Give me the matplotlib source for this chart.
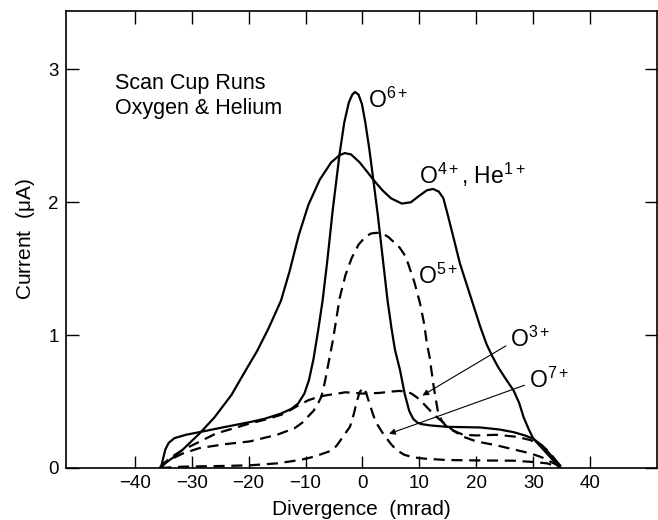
import matplotlib
matplotlib.use("Agg")
from matplotlib import pyplot as plt

plt.rcParams["font.family"] = ["Liberation Sans", "DejaVu Sans"]
plt.rcParams["mathtext.fontset"] = "custom"
plt.rcParams["mathtext.rm"] = "Liberation Sans"
plt.rcParams["mathtext.it"] = "Liberation Sans:italic"
plt.rcParams["mathtext.default"] = "rm"

# values (divergence mrad, current uA)
o4_x = [-35.6, -34.5, -33.2, -31.5, -28.6, -26.0, -23.0, -20.5, -18.5, -16.5, -14.3, -12.8,
        -11.2, -9.5, -7.5, -5.5, -4.0, -3.1, -2.0, -0.5, 1.0, 1.9, 3.5, 5.0, 6.9, 8.5,
        10.0, 11.3, 12.4, 13.4, 14.2, 15.0, 16.0, 17.1, 18.3, 19.5, 20.7, 21.8, 22.8,
        23.8, 25.0, 26.5, 27.5, 28.3, 29.2, 30.0, 31.5, 33.0, 34.7]
o4_y = [0.0, 0.04, 0.08, 0.14, 0.26, 0.38, 0.55, 0.735, 0.88, 1.05, 1.26, 1.48,
        1.75, 1.98, 2.17, 2.3, 2.355, 2.37, 2.36, 2.3, 2.22, 2.17, 2.09, 2.03, 1.99, 2.0,
        2.05, 2.09, 2.10, 2.08, 2.03, 1.9, 1.73, 1.54, 1.38, 1.22, 1.06, 0.93, 0.84,
        0.76, 0.68, 0.585, 0.49, 0.38, 0.29, 0.22, 0.15, 0.08, 0.0]

o6_x = [-35.4, -35.0, -34.6, -34.0, -33.0, -31.0, -28.6, -24.0, -19.8, -17.2, -14.3,
        -12.5, -11.3, -10.2, -9.4, -8.6, -7.8, -7.0, -6.2, -5.2, -4.0, -3.2, -2.4, -1.8,
        -1.3, -0.7, -0.1, 0.5, 1.2, 1.9, 2.7, 3.5, 4.4, 5.1, 5.7, 6.6, 7.4, 8.2, 8.9, 9.7,
        10.4, 12.0, 14.8, 20.7, 24.0, 26.5, 28.5, 30.0, 31.5, 33.0, 34.7]
o6_y = [0.0, 0.07, 0.14, 0.19, 0.225, 0.25, 0.27, 0.31, 0.345, 0.37, 0.41,
        0.445, 0.485, 0.56, 0.66, 0.82, 1.03, 1.26, 1.55, 1.95, 2.37, 2.6, 2.75, 2.81,
        2.83, 2.81, 2.74, 2.6, 2.4, 2.17, 1.9, 1.6, 1.26, 1.05, 0.89, 0.735, 0.56, 0.43,
        0.37, 0.34, 0.33, 0.32, 0.31, 0.305, 0.29, 0.27, 0.245, 0.22, 0.17, 0.1, 0.02]

o5_x = [-35.6, -34.8, -33.9, -31.5, -28.6, -24.0, -19.8, -15.0, -11.9, -10.6, -9.6,
        -8.6, -7.8, -7.3, -6.9, -6.5, -6.1, -5.2, -4.0, -3.0, -1.9, -0.7, 0.5, 1.5, 2.5,
        3.5, 4.5, 5.5, 6.5, 7.3, 8.0, 9.1, 10.1, 10.8, 11.3, 11.8, 12.1, 12.4, 12.8, 13.3,
        14.0, 14.8, 16.0, 17.7, 20.0, 23.6, 27.0, 29.5, 31.5, 33.0, 34.2]
o5_y = [0.0, 0.04, 0.06, 0.11, 0.15, 0.18, 0.20, 0.25, 0.30, 0.34, 0.385,
        0.43, 0.485, 0.53, 0.585, 0.67, 0.76, 0.96, 1.28, 1.45, 1.58, 1.68, 1.74, 1.765,
        1.77, 1.765, 1.74, 1.7, 1.66, 1.61, 1.54, 1.4, 1.24, 1.09, 0.94, 0.83, 0.735, 0.64,
        0.535, 0.41, 0.35, 0.31, 0.28, 0.25, 0.245, 0.25, 0.235, 0.21, 0.17, 0.11, 0.04]

o3_x = [-35.4, -34.0, -31.6, -28.5, -25.7, -22.5, -19.8, -17.0, -14.3, -12.5, -11.3,
        -9.5, -7.8, -6.0, -5.0, -3.0, 0.0, 3.0, 5.0, 6.5, 7.7, 8.6, 9.6, 10.7, 11.8,
        13.0, 14.8, 16.0, 17.7, 20.0, 23.6, 26.5, 29.5, 31.5, 33.6, 35.0]
o3_y = [0.0, 0.07, 0.135, 0.2, 0.26, 0.3, 0.335, 0.365, 0.40, 0.44, 0.47,
        0.51, 0.535, 0.55, 0.555, 0.57, 0.56, 0.565, 0.575, 0.58, 0.575, 0.56, 0.53, 0.485,
        0.435, 0.385, 0.32, 0.28, 0.235, 0.2, 0.17, 0.14, 0.11, 0.08, 0.035, 0.0]

o7_x = [-35.5, -31.6, -25.0, -19.8, -15.0, -11.0, -9.0, -7.5, -6.5, -5.5, -4.6, -4.0,
        -3.2, -2.2, -1.5, -1.0, -0.5, 0.1, 0.6, 1.2, 1.8, 2.3, 3.0, 3.6, 4.3, 5.0, 6.0,
        7.3, 8.9, 11.0, 14.8, 20.0, 26.5, 30.0, 32.4, 35.0]
o7_y = [0.0, 0.01, 0.015, 0.02, 0.035, 0.06, 0.08, 0.10, 0.115, 0.13, 0.165, 0.20,
        0.25, 0.31, 0.41, 0.5, 0.57, 0.605, 0.57, 0.49, 0.41, 0.35, 0.3, 0.26, 0.22, 0.18,
        0.135, 0.1, 0.08, 0.07, 0.06, 0.057, 0.055, 0.045, 0.035, 0.0]

xticks = [-40, -30, -20, -10, 0, 10, 20, 30, 40]
yticks = [0, 1, 2, 3]

fig = plt.figure(figsize=(6.58, 5.2), dpi=100)
ax = fig.add_axes([0.0998, 0.1, 0.8987, 0.879])

lw = 1.6
dash = (0, (5, 3))
ax.plot(o4_x, o4_y, color="black", lw=lw)
ax.plot(o6_x, o6_y, color="black", lw=lw)
ax.plot(o5_x, o5_y, color="black", lw=lw, linestyle=dash)
ax.plot(o3_x, o3_y, color="black", lw=lw, linestyle=dash)
ax.plot(o7_x, o7_y, color="black", lw=lw, linestyle=dash)

ax.set_xlim(-52.1, 51.7)
ax.set_ylim(0, 3.44)
ax.set_xticks(xticks)
ax.set_yticks(yticks)
ax.tick_params(direction="in", length=9, width=1, labelsize=13.5,
               top=True, right=True, pad=5)
ax.set_xticklabels([str(t).replace("-", "\u2212") for t in xticks])
for s in ax.spines.values():
    s.set_linewidth(1.2)

ax.set_xlabel("Divergence  (mrad)", fontsize=15, labelpad=6)
ax.set_ylabel("Current  ($\\mu$A)", fontsize=15, labelpad=8)

ax.text(-43.5, 2.97, "Scan Cup Runs\nOxygen & Helium", fontsize=15.5,
        linespacing=1.2, va="top", ha="left")

fs = 16.5
ax.text(0.9, 2.71, "O$^{6+}$", fontsize=fs, va="baseline")
ax.text(9.9, 2.14, "O$^{4+}$, He$^{1+}$", fontsize=fs, va="baseline")
ax.text(9.8, 1.385, "O$^{5+}$", fontsize=fs, va="baseline")
ax.text(25.9, 0.91, "O$^{3+}$", fontsize=fs, va="baseline")
ax.text(29.3, 0.605, "O$^{7+}$", fontsize=fs, va="baseline")

arrow = dict(arrowstyle="-|>", lw=0.8, color="black", mutation_scale=9)
ax.annotate("", xy=(10.1, 0.535), xytext=(25.6, 0.93), arrowprops=arrow)
ax.annotate("", xy=(4.2, 0.25), xytext=(28.9, 0.63), arrowprops=arrow)

fig.savefig("out.png", dpi=100)
